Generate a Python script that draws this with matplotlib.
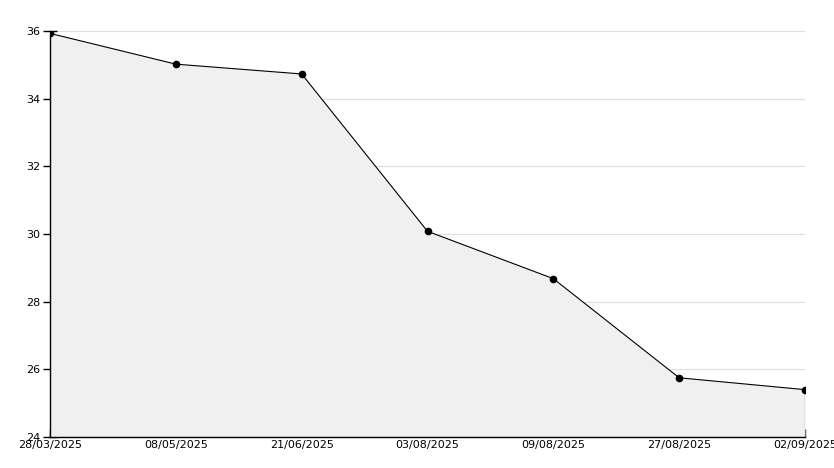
import numpy as np
import matplotlib
matplotlib.use("Agg")
import matplotlib.pyplot as plt
from matplotlib.ticker import MultipleLocator

dates = ["28/03/2025", "08/05/2025", "21/06/2025", "03/08/2025",
         "09/08/2025", "27/08/2025", "02/09/2025"]
values = [35.93, 35.02, 34.73, 30.08, 28.68, 25.75, 25.40]

fig = plt.figure(figsize=(8.34, 4.68), dpi=100)
ax = fig.add_axes([50 / 834, 1 - 437 / 468, 755 / 834, 406 / 468])

x = np.arange(len(dates))
ax.fill_between(x, values, 24, color="#f0f0f0", lw=0, zorder=1)
ax.plot(x, values, color="black", lw=0.8, marker="o", ms=4.5, zorder=3)
# right edge of the filled area
ax.plot([x[-1], x[-1]], [24, values[-1]], color="black", lw=0.8, zorder=3)

ax.set_xlim(0, len(dates) - 1)
ax.set_ylim(24, 36)
ax.set_xticks(x)
ax.set_xticklabels(dates)
ax.yaxis.set_major_locator(MultipleLocator(2))
ax.yaxis.set_minor_locator(MultipleLocator(1))

ax.grid(axis="y", which="major", color="#dddddd", lw=0.8, zorder=0)
ax.set_axisbelow(True)

for s in ["top", "right"]:
    ax.spines[s].set_visible(False)
for s in ["left", "bottom"]:
    ax.spines[s].set_linewidth(1.0)
    ax.spines[s].set_zorder(4)

ax.tick_params(axis="y", which="major", direction="inout", length=10, width=1,
               labelsize=8, pad=2)
ax.tick_params(axis="y", which="minor", direction="in", length=4, width=1)
ax.tick_params(axis="x", which="major", direction="in", length=6, width=1,
               labelsize=8, pad=2)

plt.savefig("out.png", dpi=100)
